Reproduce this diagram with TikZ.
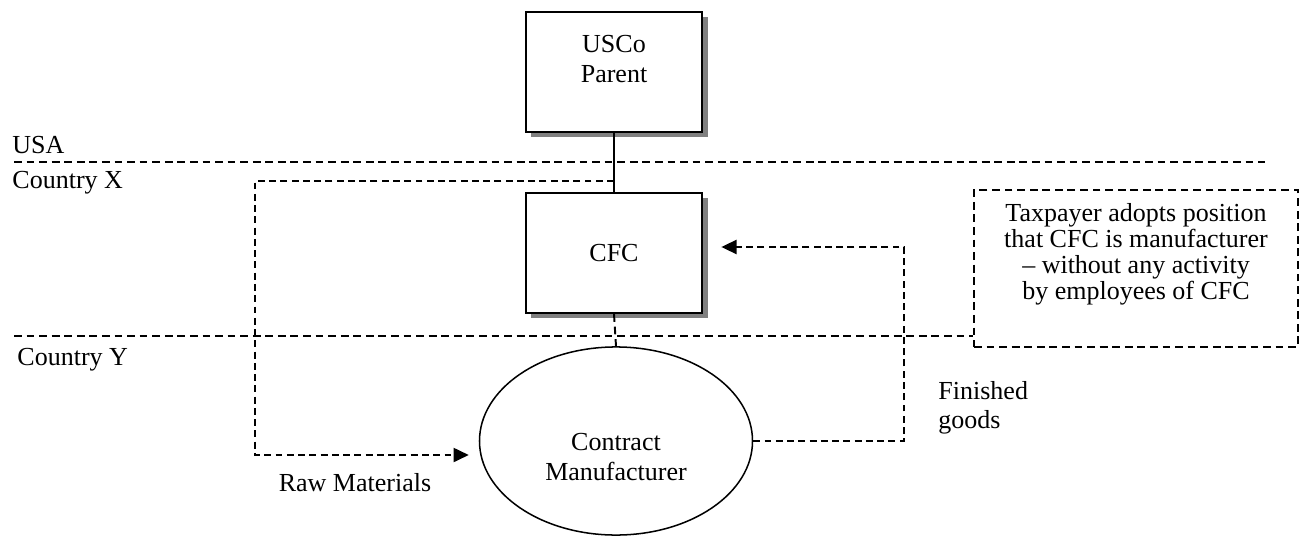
\documentclass[tikz,border=0pt]{standalone}
\usepackage{fontspec}
\setmainfont{Liberation Serif}
\usetikzlibrary{arrows.meta}
\usetikzlibrary{shapes.geometric,shadows,calc}

\begin{document}
\begin{tikzpicture}[x=0.01622cm, y=-0.01622cm,
	font=\fontsize{12}{13.5}\selectfont,
	entity/.style={draw, line width=1pt, fill=white, minimum width=81.5pt, minimum height=55.4pt,
		drop shadow={shadow xshift=2.4pt, shadow yshift=-2.4pt, fill=gray, opacity=1}},
	contractor/.style={draw, ellipse, line width=0.7pt, minimum width=126pt, minimum height=86.8pt},
	remark/.style={draw, dash pattern=on 3.6pt off 2.2pt, line width=0.9pt, minimum width=149.5pt, minimum height=72.5pt},
	border/.style={dash pattern=on 3.6pt off 2.2pt, line width=0.9pt},
	flow/.style={dash pattern=on 3.2pt off 2pt, line width=0.9pt, -{Triangle[length=7pt,width=6.5pt]}},
	plainlabel/.style={inner sep=0pt, align=left}
]
\useasboundingbox (0,0) rectangle (1299,537);

\node[entity, label={[align=center, yshift=6pt]center:USCo\\Parent}] (usco) at (614,72) {};
\node[entity] (cfc) at (614,253) {CFC};
\node[contractor, label={[align=center, yshift=-7.4pt]center:Contract\\Manufacturer}] (cm) at (616,441) {};
\node[remark, label={[align=center, yshift=6.7pt, font=\fontsize{12}{12}\selectfont]center:Taxpayer adopts position\\that CFC is manufacturer\\-- without any activity\\by employees of CFC}] (note) at (1136,268.5) {};

\node[plainlabel, anchor=west] (usa) at (12,145) {USA};
\node[plainlabel, anchor=west] (cx) at (12,183) {Country X};
\node[plainlabel, anchor=west] (cy) at (17,360) {Country Y};
\node[plainlabel] (raw) at (355,483) {Raw Materials};
\node[plainlabel, anchor=west] (fin) at (938,408) {Finished\\goods};

\coordinate (usaleft) at (14,162);
\coordinate (usaright) at (1265,162);
\coordinate (cyleft) at (14,336);
\coordinate (rawstart) at (614,181);
\coordinate (rawbend) at (255,455);
\coordinate (finbend) at (904,247);

\draw[border] (usaleft) -- (usaright);
\draw[border] (cyleft) -- (cyleft -| note.west);
\draw[line width=1pt] (usco.south) -- (cfc.north);
\draw[border] (cfc.south) -- (cm.north);
\draw[flow] (rawstart) -| (rawbend) -- ($(cm.west)+(-10,14)$);
\draw[flow] (cm.east) -| (finbend) -- ($(cfc.east)+(18,-6)$);
\end{tikzpicture}
\end{document}
